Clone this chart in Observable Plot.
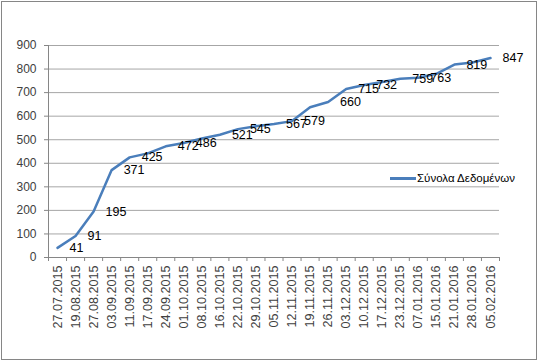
<!DOCTYPE html>
<html>
<head>
<meta charset="utf-8">
<script src="https://cdn.jsdelivr.net/npm/d3@7"></script>
<script src="https://cdn.jsdelivr.net/npm/@observablehq/plot@0.6"></script>
<style>
  html, body { margin: 0; padding: 0; background: #fff; }
  #wrap { position: relative; width: 539px; height: 362px; overflow: hidden; }
  #frame { position: absolute; left: 1px; top: 1px; width: 534px; height: 357px; border: 1px solid #868686; box-sizing: content-box; pointer-events: none; }
  #legsw { position: absolute; left: 390px; top: 177px; width: 26px; height: 2.5px; background: #4a7ebb; }
  #legtxt { position: absolute; left: 417px; top: 171px; line-height: 14px; font-family: "Liberation Sans", Arial, sans-serif; font-size: 11.5px; color: #000; white-space: nowrap; }
</style>
</head>
<body>
<div id="wrap">
  <div id="chart"></div>
  <div id="legsw"></div>
  <div id="legtxt"></div>
  <div id="frame"></div>
</div>
<script>
const dates = ["27.07.2015","19.08.2015","27.08.2015","03.09.2015","11.09.2015","17.09.2015","24.09.2015","01.10.2015","08.10.2015","16.10.2015","22.10.2015","29.10.2015","05.11.2015","12.11.2015","19.11.2015","26.11.2015","03.12.2015","10.12.2015","17.12.2015","23.12.2015","07.01.2016","15.01.2016","21.01.2016","28.01.2016","05.02.2016"];
const values = [41,91,195,371,425,442,472,486,505,521,545,557,567,579,638,660,715,732,745,759,763,780,819,828,847];
const labeled = [true,true,true,true,true,false,true,true,false,true,true,false,true,true,false,true,true,true,false,true,true,false,true,false,true];
const yTicks = [0,100,200,300,400,500,600,700,800,900];
const seriesName = "Σύνολα Δεδομένων";

const data = dates.map((d, i) => ({i, date: d, value: values[i], label: labeled[i]}));
const bounds = d3.range(dates.length + 1).map(k => k - 0.5);

document.getElementById("legtxt").textContent = seriesName;

const chart = Plot.plot({
  width: 539,
  height: 362,
  marginLeft: 48,
  marginRight: 40,
  marginTop: 45,
  marginBottom: 105,
  style: {fontFamily: "'Liberation Sans', Arial, sans-serif", fontSize: "12px", color: "#404040", background: "transparent"},
  x: {domain: [-0.5, dates.length - 0.5]},
  y: {domain: [0, 900]},
  marks: [
    Plot.ruleY(yTicks.filter(v => v > 0), {stroke: "#a6a6a6", strokeWidth: 1, strokeOpacity: 1}),
    Plot.axisY({ticks: yTicks, tickSize: 4, tickPadding: 8, stroke: "#868686", fill: "#404040", fontSize: 12, label: null}),
    Plot.axisX({ticks: bounds, tickSize: 4, tickFormat: () => "", stroke: "#868686", label: null}),
    Plot.axisX({ticks: d3.range(dates.length), tickSize: 0, tickPadding: 8, tickRotate: -90, tickFormat: i => dates[i], fill: "#404040", fontSize: 12.6, label: null}),
    Plot.ruleY([0], {stroke: "#868686"}),
    Plot.ruleX([-0.5], {stroke: "#868686"}),
    Plot.line(data, {x: "i", y: "value", stroke: "#4a7ebb", strokeWidth: 2.5}),
    Plot.text(data.filter(d => d.label), {x: "i", y: "value", text: d => String(d.value), dx: 12, textAnchor: "start", fill: "#000", fontSize: 12.5})
  ]
});
document.getElementById("chart").appendChild(chart);
</script>
</body>
</html>
